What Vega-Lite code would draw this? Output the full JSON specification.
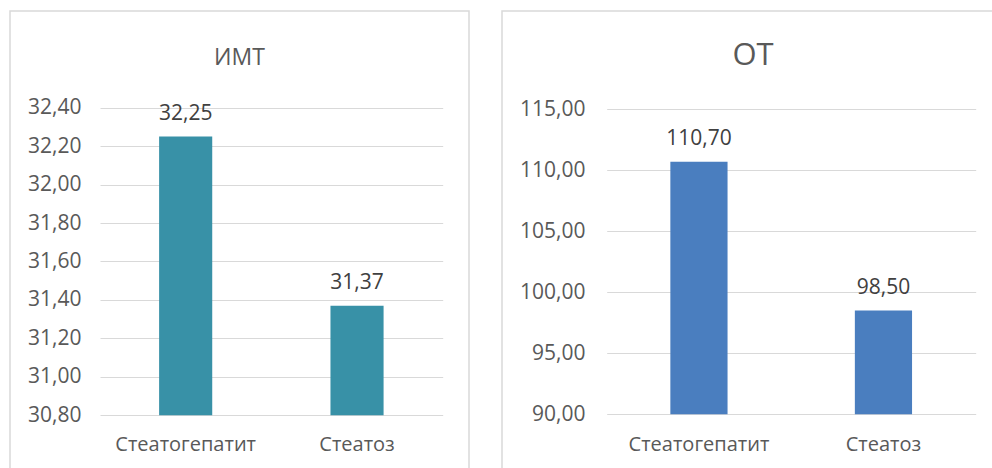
{
  "$schema": "https://vega.github.io/schema/vega-lite/v6.json",
  "padding": {"left": 9, "top": 10, "right": 0, "bottom": 0},
  "spacing": 31,
  "config": {
    "locale": {"number": {"decimal": ",", "thousands": " ", "grouping": [3], "currency": ["", ""]}},
    "font": "Open Sans",
    "view": {"stroke": "#D9D9D9", "strokeWidth": 1.5},
    "axis": {"gridColor": "#D9D9D9", "gridWidth": 1, "domain": false, "ticks": false, "tickSize": 0, "labelPadding": 0, "labelColor": "#595959", "labelFont": "Open Sans", "labelFontSize": 21, "title": null},
    "title": {"color": "#595959", "font": "Open Sans", "fontWeight": "normal", "anchor": "middle", "baseline": "middle"}
  },
  "hconcat": [
    {
      "width": 459,
      "height": 470,
      "title": {"text": "ИМТ", "fontSize": 23, "offset": -59},
      "data": {"values": [{"group": "Стеатогепатит", "value": 32.25}, {"group": "Стеатоз", "value": 31.37}]},
      "encoding": {
        "x": {"field": "group", "type": "nominal", "sort": null, "scale": {"range": [90, 432.7], "paddingInner": 0, "paddingOuter": 0}, "axis": {"labelAngle": 0, "grid": false, "offset": -31, "labelBaseline": "alphabetic", "labelFontSize": 20, "title": null}},
        "y": {"field": "value", "type": "quantitative", "scale": {"domain": [30.458, 32.903], "nice": false, "zero": false}, "axis": {"values": [30.8, 31, 31.2, 31.4, 31.6, 31.8, 32, 32.2, 32.4], "format": ".2f", "offset": -71, "grid": true, "title": null}}
      },
      "layer": [
        {"mark": {"type": "bar", "color": "#3891A7", "width": {"band": 0.31}}, "encoding": {"y2": {"datum": 30.8}}},
        {"mark": {"type": "text", "dy": -17, "baseline": "alphabetic", "fontSize": 21, "color": "#404040"}, "encoding": {"text": {"field": "value", "type": "quantitative", "format": ".2f"}}}
      ]
    },
    {
      "width": 502,
      "height": 470,
      "title": {"text": "ОТ", "fontSize": 31, "offset": -61},
      "data": {"values": [{"group": "Стеатогепатит", "value": 110.7}, {"group": "Стеатоз", "value": 98.5}]},
      "encoding": {
        "x": {"field": "group", "type": "nominal", "sort": null, "scale": {"range": [104.7, 473.7], "paddingInner": 0, "paddingOuter": 0}, "axis": {"labelAngle": 0, "grid": false, "offset": -31, "labelBaseline": "alphabetic", "labelFontSize": 20, "title": null}},
        "y": {"field": "value", "type": "quantitative", "scale": {"domain": [84.532, 123.057], "nice": false, "zero": false}, "axis": {"values": [90, 95, 100, 105, 110, 115], "format": ".2f", "offset": -83, "grid": true, "title": null}}
      },
      "layer": [
        {"mark": {"type": "bar", "color": "#4A7EBF", "width": {"band": 0.31}}, "encoding": {"y2": {"datum": 90}}},
        {"mark": {"type": "text", "dy": -17, "baseline": "alphabetic", "fontSize": 21, "color": "#404040"}, "encoding": {"text": {"field": "value", "type": "quantitative", "format": ".2f"}}}
      ]
    }
  ]
}
